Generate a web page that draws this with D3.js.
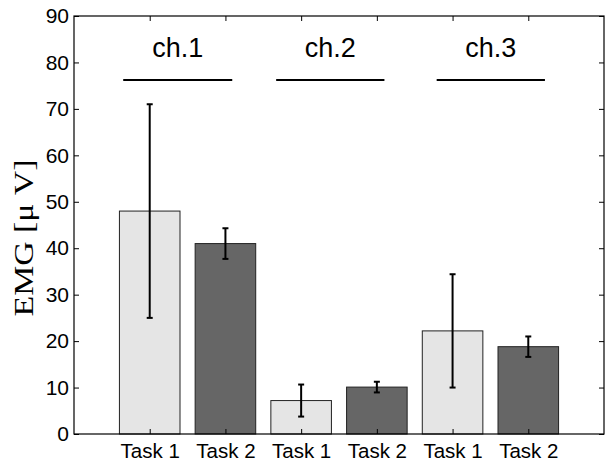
<!DOCTYPE html>
<html>
<head>
<meta charset="utf-8">
<script src="https://cdn.jsdelivr.net/npm/d3@7"></script>
<style>
  html, body { margin: 0; padding: 0; background: #fff; }
  svg { display: block; }
</style>
</head>
<body>
<svg id="chart" width="610" height="461"></svg>
<script>
// ---- data ----
const categories = ["Task 1", "Task 2", "Task 1", "Task 2", "Task 1", "Task 2"];
const values = [48, 41, 7.2, 10.1, 22.2, 18.8];
const errors = [23, 3.3, 3.45, 1.15, 12.2, 2.2];
const taskIndex = [0, 1, 0, 1, 0, 1];
const channels = ["ch.1", "ch.2", "ch.3"];
const channelStart = [0.65, 2.67, 4.79];
const channelEnd = [2.09, 4.10, 6.22];
const yTicks = [0, 10, 20, 30, 40, 50, 60, 70, 80, 90];
const yLabel = "EMG [\u03BC V]";

// ---- layout ----
const svg = d3.select("#chart");
const mLeft = 74, mRight = 604, mTop = 16, mBottom = 434;
const x = d3.scaleLinear().domain([0, 7]).range([mLeft, mRight]);
const y = d3.scaleLinear().domain([0, 90]).range([mBottom, mTop]);
const barColors = ["#e5e5e5", "#666666"];
const barW = (x(1) - x(0)) * 0.8;

// bars
svg.append("g").selectAll("rect").data(values).join("rect")
  .attr("x", (d, i) => x(i + 1) - barW / 2)
  .attr("y", d => y(d))
  .attr("width", barW)
  .attr("height", d => y(0) - y(d))
  .attr("fill", (d, i) => barColors[taskIndex[i]])
  .attr("stroke", "#222")
  .attr("stroke-width", 1);

// error bars
const eg = svg.append("g").attr("stroke", "#000").attr("stroke-width", 2);
values.forEach((v, i) => {
  const cx = x(i + 1);
  eg.append("line").attr("x1", cx).attr("x2", cx).attr("y1", y(v - errors[i])).attr("y2", y(v + errors[i]));
  [v - errors[i], v + errors[i]].forEach(e => {
    eg.append("line").attr("x1", cx - 3).attr("x2", cx + 3).attr("y1", y(e)).attr("y2", y(e));
  });
});

// axes (matlab-style box, inward ticks)
const fontSans = "Arial, 'Liberation Sans', sans-serif";
const yAxis = d3.axisLeft(y).tickValues(yTicks).tickSize(-5).tickPadding(5).tickFormat(d3.format("d"));
const gy = svg.append("g").attr("transform", `translate(${mLeft},0)`).call(yAxis);
gy.select(".domain").remove();
gy.selectAll("text").attr("font-family", fontSans).attr("font-size", 21).attr("fill", "#000");

const gyr = svg.append("g").attr("transform", `translate(${mRight},0)`)
  .call(d3.axisRight(y).tickValues(yTicks).tickSize(-5).tickFormat(""));
gyr.select(".domain").remove();

const xAxis = d3.axisBottom(x).tickValues(d3.range(1, 7)).tickSize(-5).tickPadding(9)
  .tickFormat((d, i) => categories[i]);
const gx = svg.append("g").attr("transform", `translate(0,${mBottom})`).call(xAxis);
gx.select(".domain").remove();
gx.selectAll("text").attr("font-family", fontSans).attr("font-size", 20.5).attr("fill", "#000");

const gxt = svg.append("g").attr("transform", `translate(0,${mTop})`)
  .call(d3.axisTop(x).tickValues(d3.range(1, 7)).tickSize(-5).tickFormat(""));
gxt.select(".domain").remove();

svg.append("rect").attr("x", mLeft).attr("y", mTop).attr("width", mRight - mLeft).attr("height", mBottom - mTop)
  .attr("fill", "none").attr("stroke", "#000").attr("stroke-width", 1.2);

// channel annotations
channels.forEach((c, i) => {
  const mid = (channelStart[i] + channelEnd[i]) / 2;
  svg.append("line")
    .attr("x1", x(channelStart[i])).attr("x2", x(channelEnd[i]))
    .attr("y1", y(76.2)).attr("y2", y(76.2))
    .attr("stroke", "#000").attr("stroke-width", 2);
  svg.append("text").attr("x", x(mid)).attr("y", y(81.1))
    .attr("text-anchor", "middle").attr("font-family", fontSans).attr("font-size", 27)
    .attr("fill", "#000").text(c);
});

// y label
svg.append("text")
  .attr("transform", `translate(33,238) rotate(-90)`)
  .attr("text-anchor", "middle")
  .attr("font-family", "'Times New Roman', 'Liberation Serif', serif")
  .attr("font-size", 28)
  .attr("textLength", 157).attr("lengthAdjust", "spacingAndGlyphs")
  .attr("fill", "#000")
  .text(yLabel);
</script>
</body>
</html>
